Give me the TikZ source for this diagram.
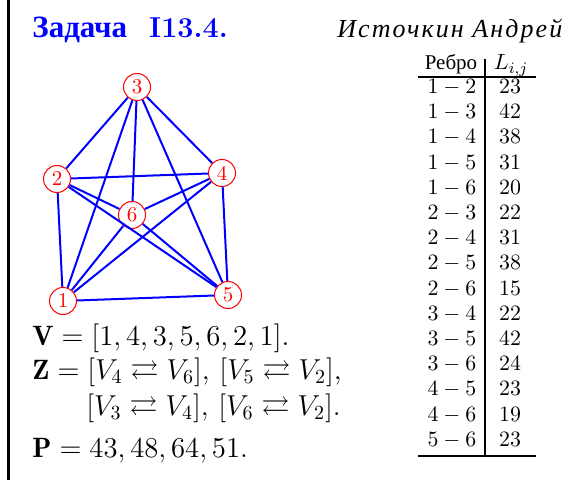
\documentclass[tikz,border=0pt]{standalone}
\usepackage{amssymb}
\usepackage{fontspec}
\newfontfamily\cyr{Liberation Serif}
\newfontfamily\cyrwide[LetterSpace=8]{Liberation Serif}

\begin{document}
\begin{tikzpicture}[x=0.5pt,y=-0.5pt,
  vertex/.style={circle, draw=red, text=red, fill=white, line width=0.5pt, minimum size=13.5pt, inner sep=0pt, font=\fontsize{10.5}{12}\selectfont},
  edge/.style={blue, line width=1pt},
  rule/.style={line width=1.4pt},
  cell/.style={anchor=base, inner sep=0pt, font=\fontsize{11}{13}\selectfont},
  formula/.style={anchor=base west, inner sep=0pt, font=\fontsize{14}{17}\selectfont}]
\useasboundingbox (0,0) rectangle (587,480);
\draw[line width=1.3pt] (8.7,0) -- (8.7,480);

% header
\node[anchor=base west, inner sep=0pt, text=blue, font=\fontsize{14.4}{17}\selectfont] (title) at (32,38) {{\fontsize{15.5}{17}\selectfont\cyr\bfseries Задача}\hspace{11pt}\textbf{I13.4.}};
\node[anchor=base west, inner sep=0pt, font=\fontsize{13}{15}\selectfont\cyrwide\itshape] (author) at (337,38) {Источкин Андрей};

% graph
\node[vertex] (v1) at (63,301) {1};
\node[vertex] (v2) at (57,179) {2};
\node[vertex] (v3) at (137,87) {3};
\node[vertex] (v4) at (222,173) {4};
\node[vertex] (v5) at (228,295) {5};
\node[vertex] (v6) at (132,215) {6};
\foreach \a/\b in {1/2,1/3,1/4,1/5,1/6,2/3,2/4,2/5,2/6,3/4,3/5,3/6,4/5,4/6,5/6}
  \draw[edge] (v\a) -- (v\b);

% answer
\node[formula] (vrow) at (32,345) {$\mathbf{V}=[1,4,3,5,6,2,1].$};
\node[formula] (zrow) at (32,379) {$\mathbf{Z}=[V_4\rightleftarrows V_6],\,[V_5\rightleftarrows V_2],$};
\node[formula] (zrow2) at (86,415) {$[V_3\rightleftarrows V_4],\,[V_6\rightleftarrows V_2].$};
\node[formula] (prow) at (32,457) {$\mathbf{P}=43,48,64,51.$};

% table
\node[cell, font=\fontsize{10.5}{13}\selectfont\cyr] (head1) at (451,70) {Ребро};
\node[cell] (head2) at (511,70) {$L_{i,j}$};
\foreach \u/\v/\len [count=\k from 0] in {1/2/23,1/3/42,1/4/38,1/5/31,1/6/20,2/3/22,2/4/31,2/5/38,2/6/15,3/4/22,3/5/42,3/6/24,4/5/23,4/6/19,5/6/23} {
  \node[cell] (e\k) at (452,93.5+25.2*\k) {$\u-\v$};
  \node[cell] (l\k) at (510,93.5+25.2*\k) {$\len$};
}
\draw[rule] (485,59) -- (485,456);
\draw[rule] (418,77) -- (536,77);
\draw[rule] (418,456) -- (536,456);
\end{tikzpicture}
\end{document}
